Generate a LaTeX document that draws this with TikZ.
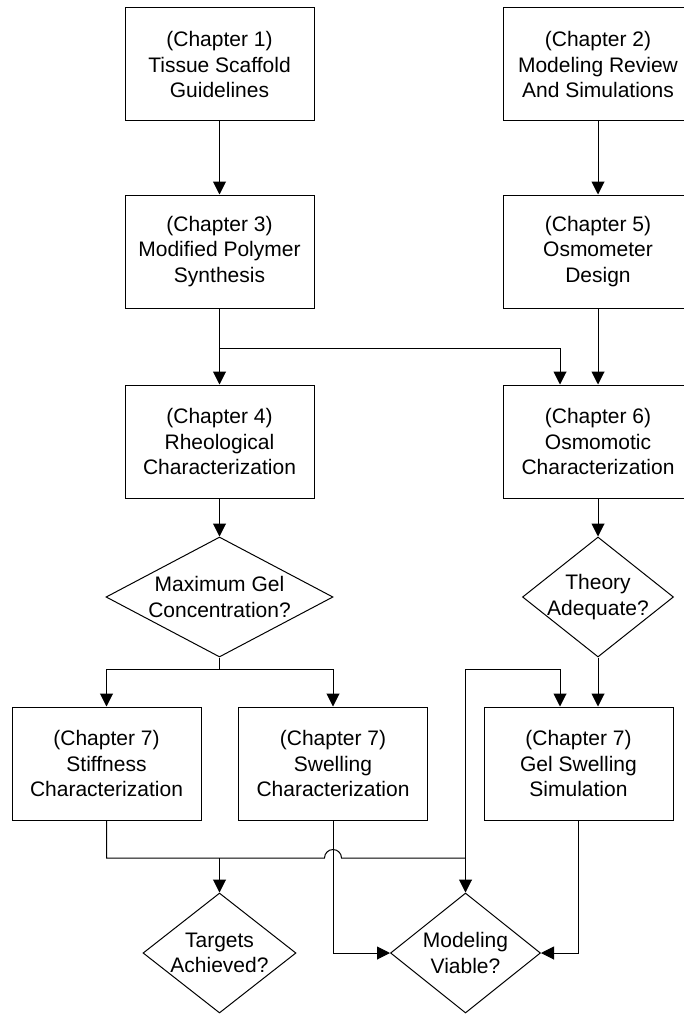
\documentclass[tikz,border=0pt]{standalone}
\usepackage{fontspec}
\setmainfont{Liberation Sans}
\usetikzlibrary{arrows.meta,shapes.geometric}
\begin{document}
\begin{tikzpicture}[x=1pt,y=-1pt,
  every node/.style={font=\fontsize{21}{25.5}\selectfont, align=center},
  procbox/.style={draw, line width=1pt, rectangle, minimum width=189pt, minimum height=113pt, inner sep=0pt},
  decision/.style={draw, line width=1pt, diamond, inner sep=0pt, minimum height=120pt},
  link/.style={line width=1pt},
  arr/.style={line width=1pt, -{Triangle[length=13pt,width=13pt]}}]
\useasboundingbox (0,0) rectangle (684,1014);

% top rows: chapter boxes
\node[procbox] (c1) at (219.5,64.5) {(Chapter 1)\\Tissue Scaffold\\Guidelines};
\node[procbox] (c2) at (598,64.5) {(Chapter 2)\\Modeling Review\\And Simulations};
\node[procbox] (c3) at (219.5,251.5) {(Chapter 3)\\Modified Polymer\\Synthesis};
\node[procbox] (c5) at (598,251.5) {(Chapter 5)\\Osmometer\\Design};
\node[procbox] (c4) at (219.5,441.5) {(Chapter 4)\\Rheological\\Characterization};
\node[procbox] (c6) at (598,441.5) {(Chapter 6)\\Osmomotic\\Characterization};

% decisions after characterization
\node[decision, minimum width=227pt] (d1) at (219.5,597) {};
\node at (d1.center) (d1t) {Maximum Gel\\Concentration?};
\node[decision, minimum width=151pt] (d2) at (598,597) {};
\node at (d2.center) (d2t) {Theory\\Adequate?};

% chapter 7 boxes
\node[procbox] (st) at (106.5,763.5) {(Chapter 7)\\Stiffness\\Characterization};
\node[procbox] (sw) at (333,763.5) {(Chapter 7)\\Swelling\\Characterization};
\node[procbox] (gs) at (578.5,763.5) {(Chapter 7)\\Gel Swelling\\Simulation};

% final decisions
\node[decision, minimum width=153pt] (ta) at (219.5,953) {};
\node at (ta.center) (tat) {Targets\\Achieved?};
\node[decision, minimum width=150pt] (mv) at (465.5,953) {};
\node at (mv.center) (mvt) {Modeling\\Viable?};

% junction points
\coordinate (j1) at (219.5,348);
\coordinate (j2) at (219.5,669);
\coordinate (lp) at (465.5,669);
\coordinate (hb) at (219.5,858);

% connectors
\draw[arr] (c1) -- (c3);
\draw[arr] (c2) -- (c5);
\draw[arr] (c3) -- (c4);
\draw[arr] (j1) -| ([xshift=-38pt]c6.north);
\draw[arr] (c5) -- (c6);
\draw[arr] (c4) -- (d1);
\draw[arr] (c6) -- (d2);
\draw[link] (d1.south) -- (j2);
\draw[arr] (j2) -| (st.north);
\draw[arr] (j2) -| (sw.north);
\draw[arr] (d2.south) -- (d2.south |- gs.north);
\draw[arr] (lp) -| ([xshift=-18.5pt]gs.north);
\draw[arr] (lp) -- (mv.north);
\draw[link] (st.south) |- (324.5,858) arc[start angle=180, end angle=360, radius=8.5] -- (mv.north |- hb);
\draw[arr] (hb) -- (ta.north);
\draw[arr] (sw.south) |- (mv.west);
\draw[arr] (gs.south) |- (mv.east);
\end{tikzpicture}
\end{document}
